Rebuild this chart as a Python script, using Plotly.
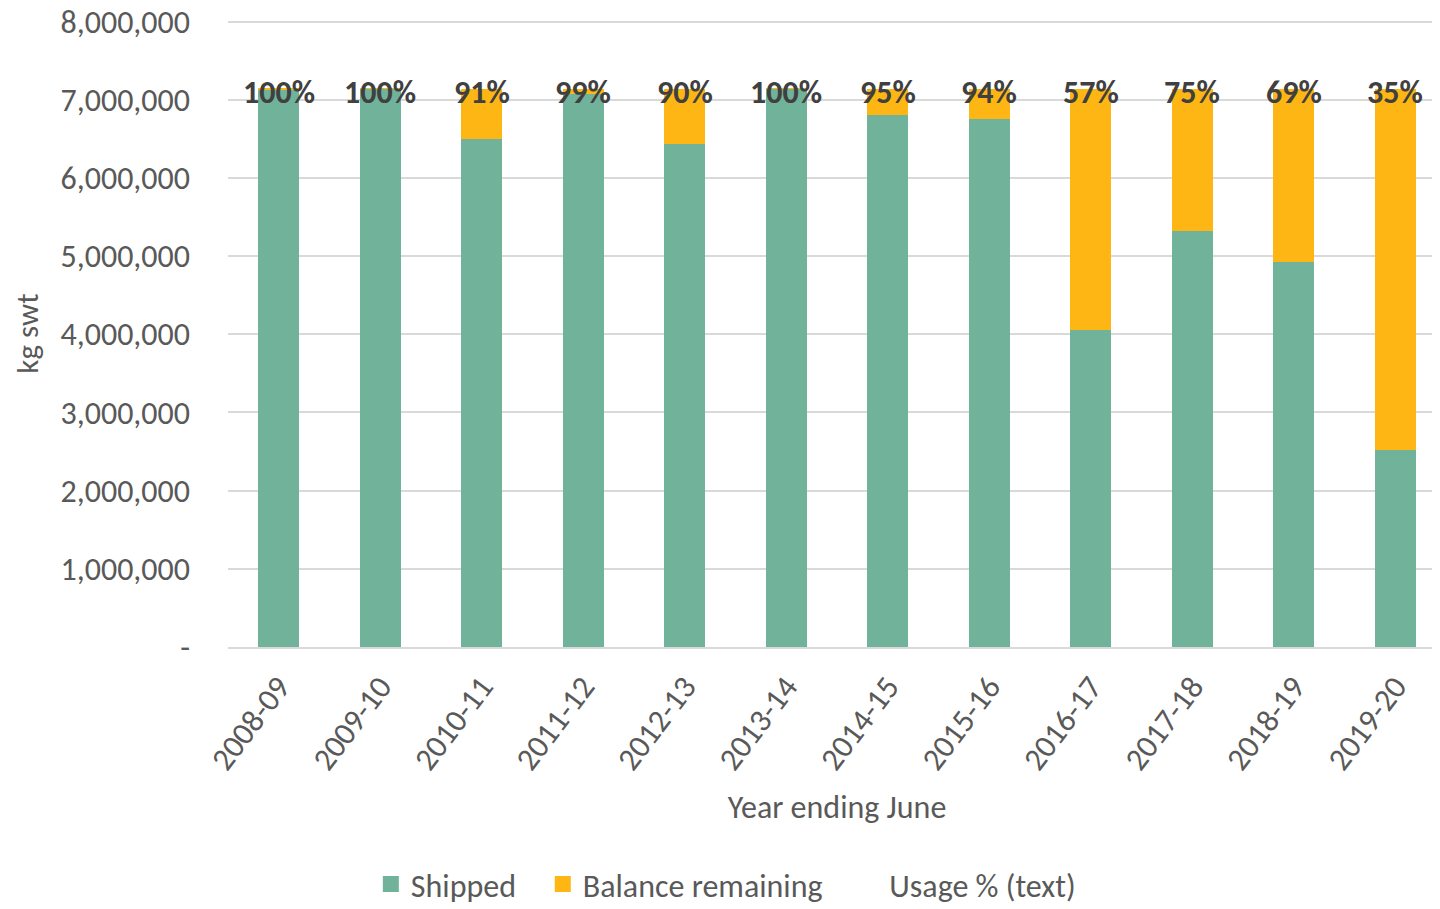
import plotly.graph_objects as go

years = ["2008-09", "2009-10", "2010-11", "2011-12", "2012-13", "2013-14",
         "2014-15", "2015-16", "2016-17", "2017-18", "2018-19", "2019-20"]
quota = [7140000] * 12
shipped = [7135000, 7138000, 6500000, 7070000, 6435000, 7138000,
           6810000, 6760000, 4060000, 5325000, 4930000, 2525000]
balance = [q - s for q, s in zip(quota, shipped)]
usage_text = ["100%", "100%", "91%", "99%", "90%", "100%",
              "95%", "94%", "57%", "75%", "69%", "35%"]
y_ticks = [0, 1000000, 2000000, 3000000, 4000000, 5000000, 6000000, 7000000, 8000000]
y_tick_text = ["-", "1,000,000", "2,000,000", "3,000,000", "4,000,000",
               "5,000,000", "6,000,000", "7,000,000", "8,000,000"]

font_family = "Carlito, Calibri, Lato, sans-serif"
green = "#71B29A"
orange = "#FDB614"
pad = "\u00a0\u00a0\u00a0"  # extra room between legend entries

fig = go.Figure()
fig.add_trace(go.Bar(x=years, y=shipped, name="Shipped", marker_color=green,
                     marker_line_width=0, showlegend=False))
fig.add_trace(go.Bar(x=years, y=balance, name="Balance remaining", marker_color=orange,
                     marker_line_width=0, showlegend=False))

# legend entries (bigger square swatches than the bar default)
for name, col in [("Shipped" + pad, green), ("Balance remaining" + pad, orange),
                  ("Usage % (text)", "rgba(0,0,0,0)")]:
    fig.add_trace(go.Scatter(x=[years[0]], y=[None], name=name, mode="markers",
                             marker=dict(symbol="square", color=col, size=16)))

# usage labels on top of each stack
for yr, q, txt in zip(years, quota, usage_text):
    fig.add_annotation(x=yr, y=q, text=txt, showarrow=False, yshift=-4,
                       font=dict(family=font_family, size=32, color="#404040", weight="bold"))

fig.update_layout(
    barmode="stack",
    bargap=0.6,
    width=1440, height=909,
    margin=dict(l=220, r=2, t=12, b=270),
    plot_bgcolor="white", paper_bgcolor="white",
    font=dict(family=font_family, size=32, color="#595959"),
    legend=dict(orientation="h", xref="container", x=0.4985, xanchor="center",
                yref="container", y=0.036, yanchor="middle",
                font=dict(size=32, color="#595959"), traceorder="normal",
                itemwidth=30, itemsizing="trace"),
)
fig.update_xaxes(type="category", range=[-0.5, 11.5], title_text="Year ending June",
                 tickangle=-53, showgrid=False,
                 showline=True, linecolor="#d9d9d9", linewidth=2, ticks="",
                 tickfont=dict(size=32), title_font=dict(size=32), title_standoff=19,
                 ticklabelstandoff=6, automargin=False)
fig.update_yaxes(title_text="kg swt", range=[0, 8020000], tickvals=y_ticks,
                 ticktext=y_tick_text, showgrid=True, gridcolor="#d9d9d9", gridwidth=1.5,
                 zeroline=False, ticks="", tickfont=dict(size=32), title_font=dict(size=31),
                 title_standoff=14, ticklabelstandoff=37, ticklabeloverflow="allow",
                 automargin=False)

fig.write_html("out.html")
